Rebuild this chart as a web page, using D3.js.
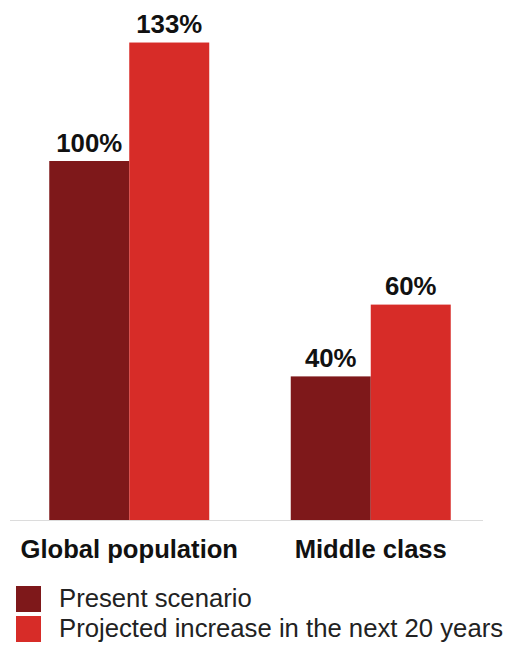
<!DOCTYPE html>
<html>
<head>
<meta charset="utf-8">
<script src="https://cdn.jsdelivr.net/npm/d3@7"></script>
<style>
  html, body { margin: 0; padding: 0; background: #fff; }
  svg { display: block; font-family: "Liberation Sans", Arial, Helvetica, sans-serif; }
</style>
</head>
<body>
<svg id="chart" width="517" height="648"></svg>
<script>
// Categories and series
const categories = ["Global population", "Middle class"];
const seriesNames = ["Present scenario", "Projected increase in the next 20 years"];
const presentValues = [100, 40];
const projectedValues = [133, 60];
const seriesColors = ["#7e181a", "#d72c28"];

const rows = categories.map((c, i) => ({
  category: c,
  values: [
    { series: seriesNames[0], value: presentValues[i] },
    { series: seriesNames[1], value: projectedValues[i] }
  ]
}));

const svg = d3.select("#chart");

const x0 = d3.scaleBand()
  .domain(categories)
  .range([8.5, 491.5])
  .paddingInner(0.3375)
  .paddingOuter(0.16875);

const x1 = d3.scaleBand()
  .domain(seriesNames)
  .range([0, x0.bandwidth()]);

const y = d3.scaleLinear()
  .domain([0, 100])
  .range([520, 161]);

const color = d3.scaleOrdinal().domain(seriesNames).range(seriesColors);

// Baseline
svg.append("line")
  .attr("x1", 10).attr("x2", 483)
  .attr("y1", y(0) + 0.5).attr("y2", y(0) + 0.5)
  .attr("stroke", "#dcdcdc")
  .attr("stroke-width", 1.2);

const groups = svg.selectAll("g.group")
  .data(rows)
  .join("g")
  .attr("class", "group")
  .attr("transform", d => `translate(${x0(d.category)},0)`);

groups.selectAll("rect")
  .data(d => d.values)
  .join("rect")
  .attr("x", d => x1(d.series))
  .attr("y", d => y(d.value))
  .attr("width", x1.bandwidth())
  .attr("height", d => y(0) - y(d.value))
  .attr("fill", d => color(d.series));

// Value labels above bars
groups.selectAll("text.value")
  .data(d => d.values)
  .join("text")
  .attr("class", "value")
  .attr("x", d => x1(d.series) + x1.bandwidth() / 2)
  .attr("y", d => y(d.value) - 9.5)
  .attr("text-anchor", "middle")
  .attr("font-size", 25.8)
  .attr("font-weight", "bold")
  .attr("fill", "#111")
  .text(d => d.value + "%");

// Category labels
svg.selectAll("text.cat")
  .data(categories)
  .join("text")
  .attr("class", "cat")
  .attr("x", d => x0(d) + x0.bandwidth() / 2)
  .attr("y", 558)
  .attr("text-anchor", "middle")
  .attr("font-size", 25.6)
  .attr("font-weight", "bold")
  .attr("fill", "#111")
  .text(d => d);

// Legend
const legend = svg.selectAll("g.legend")
  .data(seriesNames)
  .join("g")
  .attr("class", "legend")
  .attr("transform", (d, i) => `translate(16,${586 + i * 30})`);

legend.append("rect")
  .attr("width", 25)
  .attr("height", 26)
  .attr("fill", d => color(d));

legend.append("text")
  .attr("x", 43)
  .attr("y", 21)
  .attr("font-size", 25.7)
  .attr("fill", "#222")
  .text(d => d);
</script>
</body>
</html>
